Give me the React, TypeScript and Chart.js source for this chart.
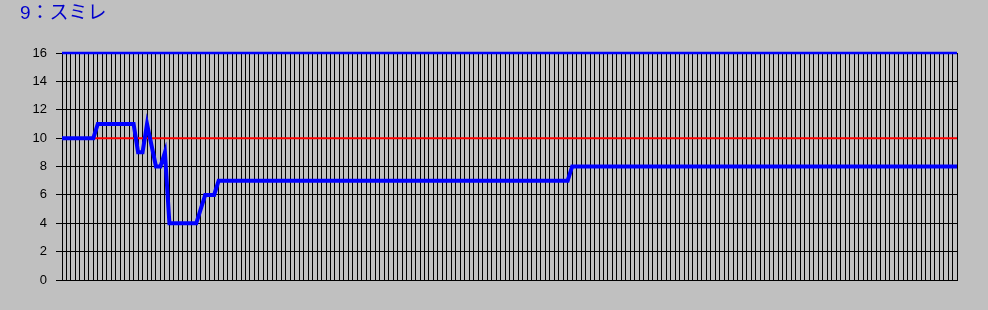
import React, { useEffect, useRef } from "react";
import { Chart, registerables } from "chart.js";

Chart.register(...registerables);

const titleText = "9：スミレ";

const yTicks = [0, 2, 4, 6, 8, 10, 12, 14, 16];

const upperLimit = 16;
const targetLevel = 10;

const rankValues = [
  10, 10, 10, 10, 10, 10, 10, 10, 11, 11, 11, 11, 11, 11, 11, 11, 11, 9, 9, 11,
  9.5, 8, 8, 9, 4, 4, 4, 4, 4, 4, 4, 5, 6, 6, 6, 7, 7, 7, 7, 7,
  7, 7, 7, 7, 7, 7, 7, 7, 7, 7, 7, 7, 7, 7, 7, 7, 7, 7, 7, 7,
  7, 7, 7, 7, 7, 7, 7, 7, 7, 7, 7, 7, 7, 7, 7, 7, 7, 7, 7, 7,
  7, 7, 7, 7, 7, 7, 7, 7, 7, 7, 7, 7, 7, 7, 7, 7, 7, 7, 7, 7,
  7, 7, 7, 7, 7, 7, 7, 7, 7, 7, 7, 7, 7, 7, 8, 8, 8, 8, 8, 8,
  8, 8, 8, 8, 8, 8, 8, 8, 8, 8, 8, 8, 8, 8, 8, 8, 8, 8, 8, 8,
  8, 8, 8, 8, 8, 8, 8, 8, 8, 8, 8, 8, 8, 8, 8, 8, 8, 8, 8, 8,
  8, 8, 8, 8, 8, 8, 8, 8, 8, 8, 8, 8, 8, 8, 8, 8, 8, 8, 8, 8,
  8, 8, 8, 8, 8, 8, 8, 8, 8, 8, 8, 8, 8, 8, 8, 8, 8, 8, 8, 8,
  8,
];

const categories = rankValues.map((_, i) => String(i + 1));
const upperLine = categories.map(() => upperLimit);
const targetLine = categories.map(() => targetLevel);

export default function App() {
  const canvasRef = useRef<HTMLCanvasElement | null>(null);

  useEffect(() => {
    const canvas = canvasRef.current;
    if (!canvas) return;
    const chart = new Chart(canvas, {
      type: "line",
      data: {
        labels: categories,
        datasets: [
          {
            data: rankValues,
            borderColor: "#0000ff",
            borderWidth: 4,
            pointRadius: 0,
            tension: 0,
            fill: false,
            clip: false,
          },
          {
            data: targetLine,
            borderColor: "#ff0000",
            borderWidth: 2,
            pointRadius: 0,
            tension: 0,
            fill: false,
          },
          {
            data: upperLine,
            borderColor: "#0000ff",
            borderWidth: 2.5,
            pointRadius: 0,
            tension: 0,
            fill: false,
            clip: false,
          },
        ],
      },
      options: {
        responsive: false,
        animation: false,
        devicePixelRatio: 1,
        layout: { padding: { left: 20, right: 31, top: 0, bottom: 0 } },
        plugins: {
          legend: { display: false },
          tooltip: { enabled: false },
          title: {
            display: true,
            text: titleText,
            align: "start",
            color: "#0000cc",
            font: {
              family: '"Liberation Sans", "Noto Sans CJK JP", sans-serif',
              size: 19,
              weight: "normal",
              lineHeight: 1.2,
            },
            padding: { top: 2, bottom: 28.2 },
          },
        },
        scales: {
          x: {
            type: "category",
            offset: false,
            grid: { color: "#000000", lineWidth: 1, drawTicks: false },
            border: { color: "#000000", width: 1 },
            ticks: { display: false },
            afterFit: (scale: any) => {
              scale.height = 30;
            },
          },
          y: {
            min: 0,
            max: 16,
            afterBuildTicks: (scale: any) => {
              scale.ticks = yTicks.map((v) => ({ value: v }));
            },
            grid: { color: "#000000", lineWidth: 1, tickLength: 6 },
            border: { color: "#000000", width: 1 },
            ticks: {
              color: "#000000",
              padding: 9,
              font: { family: '"Liberation Sans", Arial, sans-serif', size: 13 },
            },
            afterFit: (scale: any) => {
              scale.width = 42;
            },
          },
        },
      },
    });
    return () => chart.destroy();
  }, []);

  return (
    <div
      style={{
        position: "fixed",
        left: 0,
        top: 0,
        width: 988,
        height: 310,
        background: "#c0c0c0",
      }}
    >
      <canvas ref={canvasRef} width={988} height={310} style={{ display: "block" }} />
    </div>
  );
}
